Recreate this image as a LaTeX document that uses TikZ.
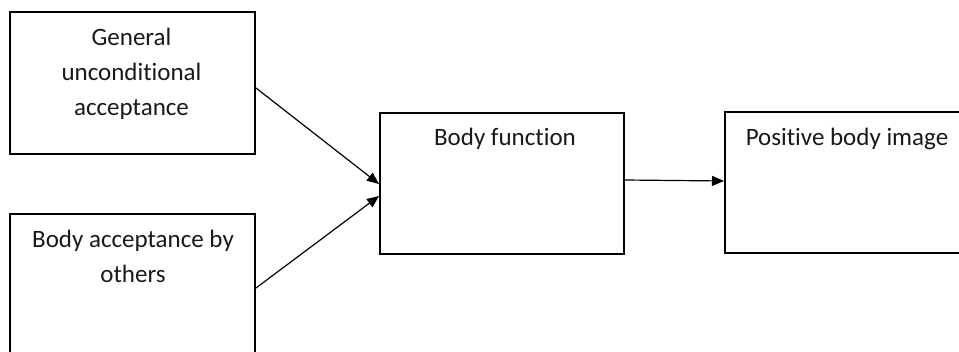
\documentclass[tikz,border=0pt]{standalone}
\usepackage{fontspec}
\setmainfont{Carlito}[Ligatures=NoCommon]
\usetikzlibrary{arrows.meta}
\begin{document}
\begin{tikzpicture}[x=1pt,y=-1pt,
  box/.style={draw=black, line width=2pt, rectangle, inner sep=0pt, anchor=north west},
  lbl/.style={font=\fontsize{25}{35}\selectfont, align=center, anchor=base, inner sep=0pt, text=black!90},
  conn/.style={line width=1.2pt, -{Triangle[length=12pt,width=10pt]}}]
\useasboundingbox (0,0) rectangle (959,351);
\clip (0,0) rectangle (959,351);
\node[box, minimum width=245pt, minimum height=142pt] (gen) at (9,11) {};
\node[box, minimum width=245pt, minimum height=157pt] (acc) at (9,213) {};
\node[box, minimum width=244pt, minimum height=141pt] (fun) at (379,112) {};
\node[box, minimum width=251pt, minimum height=141pt] (pos) at (724,111) {};
\node[lbl] (tgen) at (131.5,115) {General\\unconditional\\acceptance};
\node[lbl] (tacc) at (133,282) {Body acceptance by\\others};
\node[lbl] (tfun) at (505,145) {Body function};
\node[lbl] (tpos) at (847,145) {Positive body image};
\draw[conn] ([yshift=-5pt]gen.east) -- ([yshift=-0.5pt]fun.west);
\draw[conn] ([yshift=4.5pt]acc.east) -- ([yshift=-12.5pt]fun.west);
\draw[conn] ([yshift=3.5pt]fun.east) -- ([yshift=1.5pt]pos.west);
\end{tikzpicture}
\end{document}
